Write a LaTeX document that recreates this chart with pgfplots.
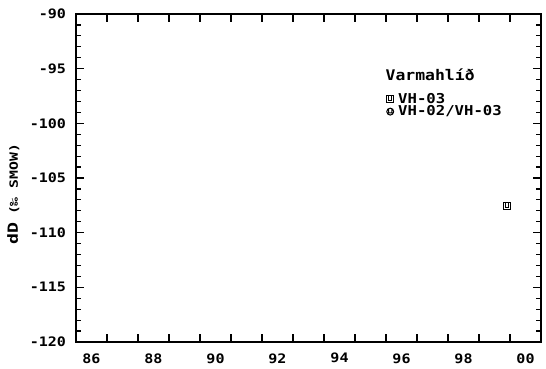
\documentclass[border=0pt]{standalone}
\usepackage{fontspec}
\usepackage{pgfplots}
\pgfplotsset{compat=1.18}
\newfontfamily\plotfont[FakeStretch=1.3]{DejaVu Sans Mono}
\newfontfamily\plotfontb[FakeStretch=1.12]{DejaVu Sans Mono}
\newfontfamily\plotfontc[FakeStretch=1.15]{DejaVu Sans Mono}
\pgfdeclareplotmark{sqU}{%
 \pgfpathrectangle{\pgfqpoint{-\pgfplotmarksize}{-\pgfplotmarksize}}{\pgfqpoint{2\pgfplotmarksize}{2\pgfplotmarksize}}%
 \pgfpathmoveto{\pgfqpoint{-0.45\pgfplotmarksize}{\pgfplotmarksize}}%
 \pgfpathlineto{\pgfqpoint{-0.45\pgfplotmarksize}{-0.35\pgfplotmarksize}}%
 \pgfpathlineto{\pgfqpoint{0.45\pgfplotmarksize}{-0.35\pgfplotmarksize}}%
 \pgfpathlineto{\pgfqpoint{0.45\pgfplotmarksize}{\pgfplotmarksize}}%
 \pgfusepathqstroke}
\pgfdeclareplotmark{ciU}{%
 \pgfpathcircle{\pgfpointorigin}{\pgfplotmarksize}%
 \pgfpathmoveto{\pgfqpoint{-0.45\pgfplotmarksize}{0.85\pgfplotmarksize}}%
 \pgfpathlineto{\pgfqpoint{-0.45\pgfplotmarksize}{-0.35\pgfplotmarksize}}%
 \pgfpathlineto{\pgfqpoint{0.45\pgfplotmarksize}{-0.35\pgfplotmarksize}}%
 \pgfpathlineto{\pgfqpoint{0.45\pgfplotmarksize}{0.85\pgfplotmarksize}}%
 \pgfusepathqstroke}
\begin{document}
\begin{tikzpicture}
\begin{axis}[
  scale only axis,
  width=348.75pt, height=246pt,
  xmin=1986, xmax=2001,
  ymin=-120, ymax=-90,
  axis line style={line width=1.3pt},
  every tick/.style={line width=0.9pt, black},
  major tick length=6pt,
  minor tick length=3.8pt,
  xtick={1987,...,2000},
  xticklabels={},
  extra x ticks={1986.5,1988.5,1990.5,1992.5,1994.5,1996.5,1998.5,2000.5},
  extra x tick labels={86,88,90,92,94,96,98,00},
  extra x tick style={major tick length=0pt},
  ytick={-120,-115,-110,-105,-100,-95,-90},
  yticklabels={-120,-115,-110,-105,-100,-95,-90},
  minor y tick num=4,
  tick label style={font=\plotfontc\bfseries\fontsize{9.8}{10}\selectfont},
  xticklabel style={yshift=-5pt},
  yticklabel style={xshift=-4pt},
  ylabel={\plotfont\bfseries\fontsize{10.5}{11}\selectfont dD\hspace{6pt}{\fontsize{8.5}{9}\selectfont(‰ SMOW)}},
  ylabel style={at={(axis description cs:-0.135,0.45)}, anchor=center},
  legend style={at={(axis cs:1996.0,-97.05)}, anchor=north west, draw=none, fill=none,
    inner sep=0pt, row sep=-2pt,
    font=\plotfontc\bfseries\fontsize{10.2}{11}\selectfont,
    nodes={inner sep=1.2pt}},
  legend cell align=left,
  legend image code/.code={\draw[#1] plot coordinates {(2.6pt,0pt)}; \path (0pt,0pt) (7pt,0pt);},
]
\addplot[only marks, mark=sqU, mark size=2.6pt, line width=0.75pt, black]
  coordinates {(1999.9,-107.6)};
\addlegendentry{VH-03}
\addlegendimage{only marks, mark=ciU, mark size=2.6pt, line width=0.75pt, black}
\addlegendentry{VH-02/VH-03}
\node[anchor=west, inner sep=0pt, font=\plotfontb\bfseries\fontsize{11}{12}\selectfont]
  at (axis cs:1995.98,-95.55) {Varmahlíð};
\end{axis}
\pgfresetboundingbox
\path[use as bounding box] ([shift={(-57pt,-20.25pt)}]current axis.south west) rectangle ([shift={(3.75pt,10.5pt)}]current axis.north east);
\end{tikzpicture}
\end{document}
